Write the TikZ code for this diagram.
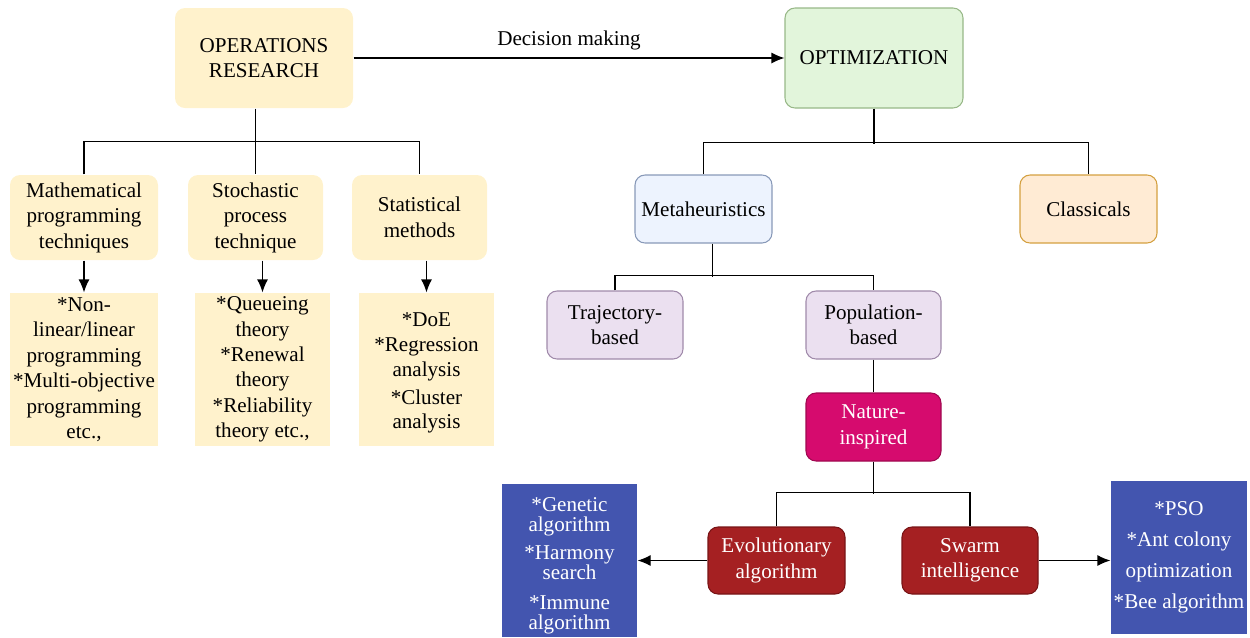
\documentclass[tikz,border=0pt]{standalone}
\usepackage{fontspec}
\setmainfont{Liberation Serif}
\usetikzlibrary{shapes, calc, arrows.meta, positioning}

\definecolor{orfill}{HTML}{FFF2CC}
\definecolor{optfill}{HTML}{E2F5DB}
\definecolor{optline}{HTML}{98B888}
\definecolor{metafill}{HTML}{EDF3FE}
\definecolor{metaline}{HTML}{8899B8}
\definecolor{clsfill}{HTML}{FFEBD4}
\definecolor{clsline}{HTML}{D4A040}
\definecolor{popfill}{HTML}{EBE0F0}
\definecolor{popline}{HTML}{A08AAA}
\definecolor{natfill}{HTML}{D60B6E}
\definecolor{natline}{HTML}{A00850}
\definecolor{evofill}{HTML}{A52022}
\definecolor{evoline}{HTML}{781416}
\definecolor{listblue}{HTML}{4355AF}

\begin{document}
\begin{tikzpicture}[>={Latex[length=2.6mm,width=2.2mm]}, x=0.02cm, y=-0.02cm, line width=0.7pt,
    font=\fontsize{12}{14.5}\selectfont,
    boxsize/.style 2 args={minimum width=#1*0.02cm, minimum height=#2*0.02cm},
    rbox/.style={rounded corners=0.2cm, align=center, inner sep=1pt, line width=0.6pt},
    orbox/.style={rbox, fill=orfill},
    orlist/.style={fill=orfill, align=center, inner sep=1pt},
    optbox/.style={rbox, fill=optfill, draw=optline},
    metabox/.style={rbox, fill=metafill, draw=metaline},
    clsbox/.style={rbox, fill=clsfill, draw=clsline},
    popbox/.style={rbox, fill=popfill, draw=popline},
    natbox/.style={rbox, fill=natfill, draw=natline, text=white},
    evobox/.style={rbox, fill=evofill, draw=evoline, text=white},
    bluelist/.style={fill=listblue, align=center, inner sep=1pt, text=white}]
    \useasboundingbox (0,0) rectangle (1250,637);

    % operations research side
    \node[orbox, boxsize={178}{100}] (opres) at (264,58) {OPERATIONS\\RESEARCH};
    \node[orbox, boxsize={148}{85}] (mathprog) at (84,217.5) {Mathematical\\programming\\techniques};
    \node[orbox, boxsize={135}{85}] (stochproc) at (255.5,217.5) {Stochastic\\process\\technique};
    \node[orbox, boxsize={135}{85}] (statmeth) at (419.5,217.5) {Statistical\\methods};

    \node[orlist, boxsize={148}{153}] (mathlist) at (84,369.5) {*Non-\\linear/linear\\programming\\*Multi-objective\\programming\\etc.,};
    \node[orlist, boxsize={135}{153}] (stochlist) at (262.5,369.5) {*Queueing\\theory\\*Renewal\\theory\\*Reliability\\theory etc.,};
    \node[orlist, boxsize={135}{153}, font=\fontsize{12}{14}\selectfont] (statlist) at (426.5,369.5)
        {\rule{0pt}{12pt}*DoE\\*Regression\\analysis\\[2pt]*Cluster\\analysis};

    % optimization side
    \node[optbox, boxsize={178}{100}] (optim) at (874,58) {OPTIMIZATION};
    \node[metabox, boxsize={137}{68}] (meta) at (703.5,209) {Metaheuristics};
    \node[clsbox, boxsize={137}{68}] (classic) at (1088.5,209) {Classicals};
    \node[popbox, boxsize={136}{68}] (traj) at (615,325) {Trajectory-\\based};
    \node[popbox, boxsize={135}{68}] (popul) at (873.5,325) {Population-\\based};
    \node[natbox, boxsize={135}{68}] (nature) at (873.5,427) {Nature-\\inspired};
    \node[evobox, boxsize={137}{67}] (evol) at (776.5,560.5) {Evolutionary\\algorithm};
    \node[evobox, boxsize={136}{67}] (swarm) at (970,560.5) {Swarm\\intelligence};

    \node[bluelist, boxsize={135}{153}, font=\fontsize{12}{11.5}\selectfont] (evollist) at (569.5,560.5)
        {\rule{0pt}{14pt}*Genetic\\algorithm\\[4.5pt]*Harmony\\search\\[5.5pt]*Immune\\algorithm};
    \node[bluelist, boxsize={136}{153}, font=\fontsize{12}{17.6}\selectfont] (swarmlist) at (1179,557.5)
        {*PSO\\*Ant colony\\optimization\\*Bee algorithm};

    % connectors
    \draw[->] (opres) -- node[above=1pt] (decision) {Decision making} (optim);

    \draw (opres.south -| stochproc.north) -- (stochproc.north);
    \draw (mathprog.north) -- ++(0,-33) -| (statmeth.north);
    \draw[->] (mathprog) -- (mathlist);
    \draw[->] (stochproc.south -| stochlist.north) -- (stochlist.north);
    \draw[->] (statmeth.south -| statlist.north) -- (statlist.north);

    \draw (optim.south) -- ++(0,35);
    \draw (meta.north) -- ++(0,-32) -| (classic.north);
    \draw ([xshift=0.18cm]meta.south) -- ++(0,33);
    \draw (traj.north) -- ++(0,-15) -| (popul.north);
    \draw (popul) -- (nature);
    \draw (nature.south) -- ++(0,32);
    \draw (evol.north) -- ++(0,-34) -| (swarm.north);
    \draw[->] (evol) -- (evol -| evollist.east);
    \draw[->] (swarm) -- (swarm -| swarmlist.west);
\end{tikzpicture}
\end{document}
